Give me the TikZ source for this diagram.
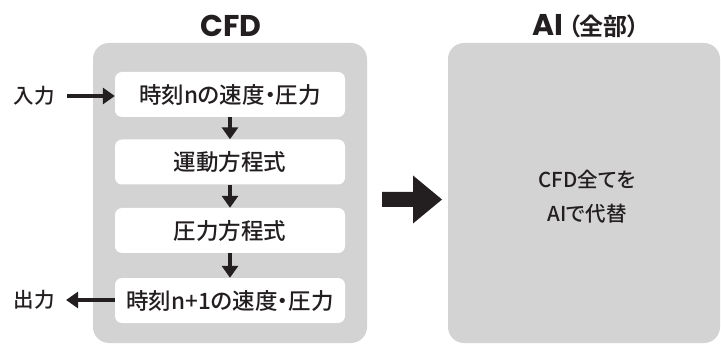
\documentclass[tikz,border=0pt]{standalone}
\usepackage{fontspec}
\usetikzlibrary{arrows.meta}
\newfontfamily\jp{Noto Sans CJK JP}[UprightFont=* Medium, BoldFont=* Bold, RawFeature=+palt]
\newfontfamily\pop{Poppins}
\definecolor{panel}{HTML}{D4D3D4}
\definecolor{ink}{HTML}{231F20}
\tikzset{
  panelbox/.style={fill=panel, rounded corners=16pt},
  stepbox/.style={fill=white, rounded corners=7pt, minimum width=230pt, minimum height=45pt, inner sep=0pt, font=\jp\fontsize{22.5pt}{24pt}\selectfont, text=ink},
  title/.style={font=\pop\bfseries\fontsize{30pt}{32pt}\selectfont, text=ink},
  side/.style={font=\jp\fontsize{20.5pt}{22pt}\selectfont, text=ink},
  flow/.style={draw=ink, line width=3.2pt, -{Triangle[length=12pt,width=16pt]}},
}
\begin{document}
\begin{tikzpicture}[x=1pt,y=-1pt]
\useasboundingbox (0,0) rectangle (721,350);
% panels
\fill[panelbox] (93,43) rectangle (367,343);
\fill[panelbox] (448,43) rectangle (720,343);
% titles
\node[title] (tcfd) at (231,26) {CFD};
\node[title] (tai) at (586,26) {AI\,{\jp\bfseries\fontsize{24pt}{26pt}\selectfont （全部）}};
% steps
\node[stepbox] (s1) at (230,94.5) {時刻nの速度・圧力};
\node[stepbox] (s2) at (230,162) {運動方程式};
\node[stepbox] (s3) at (230,230.5) {圧力方程式};
\node[stepbox] (s4) at (230,300.5) {時刻n+1の速度・圧力};
\draw[flow] (s1) -- (s2);
\draw[flow] (s2) -- (s3);
\draw[flow] (s3) -- (s4);
% input / output
\node[side, anchor=west] (in) at (10,96) {入力};
\node[side, anchor=west] (out) at (10,300) {出力};
\draw[flow] (in.east) ++(9,0) coordinate (inS) (inS) -- (s1.west |- inS);
\draw[flow] (s4.west |- out) -- ([xshift=8pt]out.east);
% big arrow
\coordinate (ba) at (382,199.5);
\fill[ink] (ba) ++(0,-7.5) -- ++(31,0) -- ++(0,-16.5) -- ++(29,24) -- ++(-29,24) -- ++(0,-16.5) -- ++(-31,0) -- cycle;
% AI text
\node[font=\jp\fontsize{20.5pt}{34pt}\selectfont, text=ink, align=center] (aitext) at (587,197) {CFD全てを\\AIで代替};
\end{tikzpicture}
\end{document}
